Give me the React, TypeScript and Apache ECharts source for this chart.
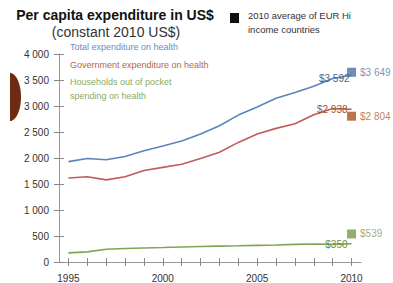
import React, { useEffect, useRef } from "react";
import * as echarts from "echarts";

const years = ["1995","1996","1997","1998","1999","2000","2001","2002","2003","2004","2005","2006","2007","2008","2009","2010"];
const totalExp = [1930, 1990, 1965, 2030, 2140, 2230, 2325, 2460, 2620, 2825, 2980, 3150, 3260, 3380, 3530, 3592];
const govExp = [1615, 1640, 1580, 1640, 1760, 1820, 1880, 1990, 2110, 2300, 2460, 2570, 2660, 2830, 2950, 2938];
const oopExp = [175, 195, 245, 260, 270, 278, 288, 298, 305, 312, 320, 328, 338, 345, 338, 350];
const eurAvg = { total: 3649, gov: 2804, oop: 539 };
const yTicks = { min: 0, max: 4000, interval: 500 };

const FONT = "'Liberation Sans', Arial, sans-serif";
const C = {
  totalLine: "#5a84bd",
  govLine: "#c25a5a",
  oopLine: "#7fa455",
  totalText: "#6b8cc6",
  govText: "#b5673f",
  oopText: "#8aaa66",
  totalSq: "#4f6fa6",
  govSq: "#a8521f",
  oopSq: "#7b9a4a",
};

const fmt = (v: number) =>
  v >= 1000 ? `${Math.floor(v / 1000)} ${String(v % 1000).padStart(3, "0")}` : String(v);

function endLabel(arr: number[], color: string, offset: number[], distance: number) {
  return arr.map((v, i) =>
    i === arr.length - 1
      ? {
          value: v,
          label: {
            show: true,
            position: "left",
            distance,
            offset,
            formatter: "$" + fmt(v),
            color,
            fontSize: 10,
            fontFamily: FONT,
          },
        }
      : v
  );
}

export default function App() {
  const ref = useRef<HTMLDivElement>(null);
  useEffect(() => {
    document.body.style.margin = "0";
    const chart = echarts.init(ref.current!, null, { renderer: "svg" });
    const last = years.length - 1;
    const sq = (val: number, color: string, textColor: string) => ({
      type: "scatter",
      symbol: "rect",
      symbolSize: 9,
      z: 5,
      itemStyle: { color },
      label: {
        show: true,
        position: "right",
        distance: 4,
        formatter: "$" + fmt(val),
        color: textColor,
        fontSize: 10,
        fontFamily: FONT,
      },
      data: [[last, val]],
    });
    const lineSeries = (data: any[], color: string) => ({
      type: "line",
      symbol: "circle",
      symbolSize: 0,
      showSymbol: true,
      itemStyle: { color },
      lineStyle: { color, width: 1.6 },
      z: 3,
      data,
    });
    chart.setOption({
      animation: false,
      grid: { left: 59, right: 32, top: 54, bottom: 16 },
      xAxis: [
        {
          type: "category",
          data: years,
          boundaryGap: true,
          axisLine: { lineStyle: { color: "#999", width: 1 } },
          axisTick: { show: true, alignWithLabel: true, interval: 0, length: 4, lineStyle: { color: "#888" } },
          axisLabel: {
            interval: (i: number, v: string) => Number(v) % 5 === 0,
            color: "#333",
            fontSize: 10,
            fontFamily: FONT,
            margin: 11,
          },
        },
        {
          type: "category",
          data: years,
          position: "bottom",
          boundaryGap: true,
          axisLine: { show: false },
          axisTick: { show: true, inside: true, alignWithLabel: true, interval: 0, length: 4, lineStyle: { color: "#888" } },
          axisLabel: { show: false },
        },
      ],
      yAxis: [
        {
          type: "value",
          min: yTicks.min,
          max: yTicks.max,
          interval: yTicks.interval,
          position: "left",
          splitLine: { show: false },
          axisLine: { show: true, lineStyle: { color: "#999" } },
          axisTick: { show: true, length: 5, lineStyle: { color: "#888" } },
          axisLabel: {
            formatter: (v: number) => fmt(v),
            color: "#333",
            fontSize: 10,
            fontFamily: FONT,
            margin: 10,
          },
        },
        {
          type: "value",
          min: yTicks.min,
          max: yTicks.max,
          interval: yTicks.interval,
          position: "left",
          splitLine: { show: false },
          axisLine: { show: false },
          axisTick: { show: true, inside: true, length: 5, lineStyle: { color: "#888" } },
          axisLabel: { show: false },
        },
      ],
      series: [
        lineSeries(endLabel(totalExp, "#4c5f85", [0, 3], 2), C.totalLine),
        lineSeries(endLabel(govExp, "#a0562e", [0, 0], 4), C.govLine),
        lineSeries(endLabel(oopExp, "#6f8f45", [0, 1], 4), C.oopLine),
        sq(eurAvg.total, C.totalSq, "#5f74a0"),
        sq(eurAvg.gov, C.govSq, "#a8603a"),
        sq(eurAvg.oop, C.oopSq, "#7f9a5a"),
      ],
      graphic: [
        { type: "ellipse", shape: { cx: 10, cy: 97, rx: 11, ry: 24 }, style: { fill: "#6e2a12" } },
        { type: "rect", shape: { x: 0, y: 70, width: 10, height: 55 }, style: { fill: "#fff" } },
        {
          type: "text",
          x: 115,
          y: 15,
          style: { text: "Per capita expenditure in US$", fontSize: 14, fontWeight: "bold", fontFamily: FONT, fill: "#111", align: "center", verticalAlign: "middle" },
        },
        {
          type: "text",
          x: 116,
          y: 32,
          style: { text: "(constant 2010 US$)", fontSize: 14, fontFamily: FONT, fill: "#333", align: "center", verticalAlign: "middle" },
        },
        { type: "rect", shape: { x: 230, y: 13, width: 9, height: 10 }, style: { fill: "#111" } },
        {
          type: "text",
          x: 248,
          y: 15,
          style: { text: "2010 average of EUR Hi", fontSize: 9.5, fontFamily: FONT, fill: "#333", verticalAlign: "middle" },
        },
        {
          type: "text",
          x: 248,
          y: 29,
          style: { text: "income countries", fontSize: 9.5, fontFamily: FONT, fill: "#333", verticalAlign: "middle" },
        },
        {
          type: "text",
          x: 70,
          y: 47,
          style: { text: "Total expenditure on health", fontSize: 9, fontFamily: FONT, fill: C.totalText, verticalAlign: "middle" },
        },
        {
          type: "text",
          x: 70,
          y: 65,
          style: { text: "Government expenditure on health", fontSize: 9, fontFamily: FONT, fill: C.govText, verticalAlign: "middle" },
        },
        {
          type: "text",
          x: 70,
          y: 82,
          style: { text: "Households out of pocket", fontSize: 9, fontFamily: FONT, fill: C.oopText, verticalAlign: "middle" },
        },
        {
          type: "text",
          x: 70,
          y: 96,
          style: { text: "spending on health", fontSize: 9, fontFamily: FONT, fill: C.oopText, verticalAlign: "middle" },
        },
      ],
    });
    return () => chart.dispose();
  }, []);
  return <div ref={ref} style={{ width: 393, height: 283 }} />;
}
